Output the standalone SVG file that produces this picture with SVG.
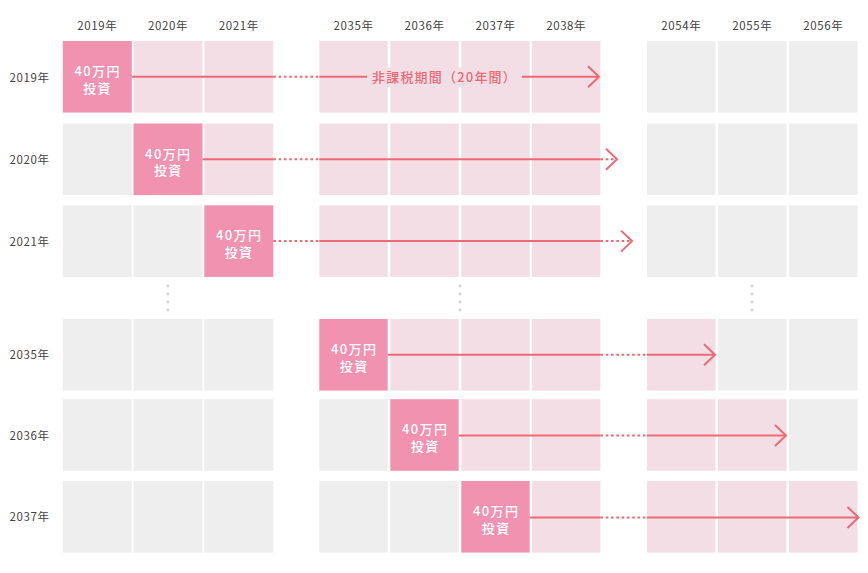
<svg xmlns="http://www.w3.org/2000/svg" width="868" height="573" viewBox="0 0 868 573">
<defs>
<style>
.g{fill:#eeeeee}
.l{fill:#f4dee5}
.s{fill:#f192b1}
.yr{font-family:"Noto Sans CJK JP","Noto Sans",sans-serif;font-size:11.5px;fill:#444444;letter-spacing:0.6px}
.hd{text-anchor:middle}
.iv{font-family:"Noto Sans CJK JP","Noto Sans",sans-serif;font-size:13px;font-weight:500;fill:#ffffff;text-anchor:middle;letter-spacing:1.4px}
.ln{stroke:#ec6a75;stroke-width:2;fill:none}
.dt{stroke-dasharray:2.6 2.7}
.arr{marker-end:url(#ah)}
.lbl{font-family:"Noto Sans CJK JP","Noto Sans",sans-serif;font-size:13px;font-weight:500;fill:#ec6a75;text-anchor:middle;letter-spacing:1.2px}
.dot{fill:#d2d2d2}
</style>
<marker id="ah" viewBox="0 0 14 24" refX="12.5" refY="12" markerWidth="14" markerHeight="24" markerUnits="userSpaceOnUse" orient="auto">
<path d="M1.5,1.5 L12.5,12 L1.5,22.5" fill="none" stroke="#ec6a75" stroke-width="2"/>
</marker>
</defs>

<g id="headers" class="yr">
<text class="hd" x="97.3" y="29.5">2019年</text>
<text class="hd" x="168" y="29.5">2020年</text>
<text class="hd" x="238.8" y="29.5">2021年</text>
<text class="hd" x="353.5" y="29.5">2035年</text>
<text class="hd" x="424.5" y="29.5">2036年</text>
<text class="hd" x="495.5" y="29.5">2037年</text>
<text class="hd" x="566.2" y="29.5">2038年</text>
<text class="hd" x="681.3" y="29.5">2054年</text>
<text class="hd" x="752.3" y="29.5">2055年</text>
<text class="hd" x="823.3" y="29.5">2056年</text>
<text x="9.5" y="81.5">2019年</text>
<text x="9.5" y="164">2020年</text>
<text x="9.5" y="245.6">2021年</text>
<text x="9.5" y="359.3">2035年</text>
<text x="9.5" y="439.5">2036年</text>
<text x="9.5" y="521.3">2037年</text>
</g>

<g id="row-2019">
<rect class="l" x="133.5" y="41" width="69" height="71.6"/>
<rect class="l" x="204.3" y="41" width="69" height="71.6"/>
<rect class="l" x="319.3" y="41" width="68.4" height="71.6"/>
<rect class="l" x="390.3" y="41" width="68.4" height="71.6"/>
<rect class="l" x="461.3" y="41" width="68.4" height="71.6"/>
<rect class="l" x="532" y="41" width="68.4" height="71.6"/>
<rect class="g" x="647" y="41" width="68.5" height="71.6"/>
<rect class="g" x="718" y="41" width="68.5" height="71.6"/>
<rect class="g" x="789" y="41" width="68.5" height="71.6"/>
</g>
<g id="invest-2019">
<rect class="s" x="62.8" y="41" width="69" height="71.6"/>
<text class="iv" x="97.6" y="76">40万円</text>
<text class="iv" x="97.6" y="92.5">投資</text>
</g>

<g id="row-2020">
<rect class="g" x="62.8" y="123.5" width="69" height="71.6"/>
<rect class="l" x="204.3" y="123.5" width="69" height="71.6"/>
<rect class="l" x="319.3" y="123.5" width="68.4" height="71.6"/>
<rect class="l" x="390.3" y="123.5" width="68.4" height="71.6"/>
<rect class="l" x="461.3" y="123.5" width="68.4" height="71.6"/>
<rect class="l" x="532" y="123.5" width="68.4" height="71.6"/>
<rect class="g" x="647" y="123.5" width="68.5" height="71.6"/>
<rect class="g" x="718" y="123.5" width="68.5" height="71.6"/>
<rect class="g" x="789" y="123.5" width="68.5" height="71.6"/>
</g>
<g id="invest-2020">
<rect class="s" x="133.5" y="123.5" width="69" height="71.6"/>
<text class="iv" x="168.3" y="158.5">40万円</text>
<text class="iv" x="168.3" y="175">投資</text>
</g>

<g id="row-2021">
<rect class="g" x="62.8" y="205.3" width="69" height="71.6"/>
<rect class="g" x="133.5" y="205.3" width="69" height="71.6"/>
<rect class="l" x="319.3" y="205.3" width="68.4" height="71.6"/>
<rect class="l" x="390.3" y="205.3" width="68.4" height="71.6"/>
<rect class="l" x="461.3" y="205.3" width="68.4" height="71.6"/>
<rect class="l" x="532" y="205.3" width="68.4" height="71.6"/>
<rect class="g" x="647" y="205.3" width="68.5" height="71.6"/>
<rect class="g" x="718" y="205.3" width="68.5" height="71.6"/>
<rect class="g" x="789" y="205.3" width="68.5" height="71.6"/>
</g>
<g id="invest-2021">
<rect class="s" x="204.3" y="205.3" width="69" height="71.6"/>
<text class="iv" x="239.1" y="240.3">40万円</text>
<text class="iv" x="239.1" y="256.8">投資</text>
</g>

<g id="ellipsis">
<circle class="dot" cx="167.8" cy="286" r="1.4"/>
<circle class="dot" cx="167.8" cy="294" r="1.4"/>
<circle class="dot" cx="167.8" cy="302" r="1.4"/>
<circle class="dot" cx="167.8" cy="310" r="1.4"/>
<circle class="dot" cx="460" cy="286" r="1.4"/>
<circle class="dot" cx="460" cy="294" r="1.4"/>
<circle class="dot" cx="460" cy="302" r="1.4"/>
<circle class="dot" cx="460" cy="310" r="1.4"/>
<circle class="dot" cx="752" cy="286" r="1.4"/>
<circle class="dot" cx="752" cy="294" r="1.4"/>
<circle class="dot" cx="752" cy="302" r="1.4"/>
<circle class="dot" cx="752" cy="310" r="1.4"/>
</g>

<g id="row-2035">
<rect class="g" x="62.8" y="319" width="69" height="71.6"/>
<rect class="g" x="133.5" y="319" width="69" height="71.6"/>
<rect class="g" x="204.3" y="319" width="69" height="71.6"/>
<rect class="l" x="390.3" y="319" width="68.4" height="71.6"/>
<rect class="l" x="461.3" y="319" width="68.4" height="71.6"/>
<rect class="l" x="532" y="319" width="68.4" height="71.6"/>
<rect class="l" x="647" y="319" width="68.5" height="71.6"/>
<rect class="g" x="718" y="319" width="68.5" height="71.6"/>
<rect class="g" x="789" y="319" width="68.5" height="71.6"/>
</g>
<g id="invest-2035">
<rect class="s" x="319.3" y="319" width="68.4" height="71.6"/>
<text class="iv" x="354.2" y="354">40万円</text>
<text class="iv" x="354.2" y="370.5">投資</text>
</g>

<g id="row-2036">
<rect class="g" x="62.8" y="399.2" width="69" height="71.6"/>
<rect class="g" x="133.5" y="399.2" width="69" height="71.6"/>
<rect class="g" x="204.3" y="399.2" width="69" height="71.6"/>
<rect class="g" x="319.3" y="399.2" width="68.4" height="71.6"/>
<rect class="l" x="461.3" y="399.2" width="68.4" height="71.6"/>
<rect class="l" x="532" y="399.2" width="68.4" height="71.6"/>
<rect class="l" x="647" y="399.2" width="68.5" height="71.6"/>
<rect class="l" x="718" y="399.2" width="68.5" height="71.6"/>
<rect class="g" x="789" y="399.2" width="68.5" height="71.6"/>
</g>
<g id="invest-2036">
<rect class="s" x="390.3" y="399.2" width="68.4" height="71.6"/>
<text class="iv" x="425.2" y="434.2">40万円</text>
<text class="iv" x="425.2" y="450.7">投資</text>
</g>

<g id="row-2037">
<rect class="g" x="62.8" y="481" width="69" height="71.6"/>
<rect class="g" x="133.5" y="481" width="69" height="71.6"/>
<rect class="g" x="204.3" y="481" width="69" height="71.6"/>
<rect class="g" x="319.3" y="481" width="68.4" height="71.6"/>
<rect class="g" x="390.3" y="481" width="68.4" height="71.6"/>
<rect class="l" x="532" y="481" width="68.4" height="71.6"/>
<rect class="l" x="647" y="481" width="68.5" height="71.6"/>
<rect class="l" x="718" y="481" width="68.5" height="71.6"/>
<rect class="l" x="789" y="481" width="68.5" height="71.6"/>
</g>
<g id="invest-2037">
<rect class="s" x="461.3" y="481" width="68.4" height="71.6"/>
<text class="iv" x="496.2" y="516">40万円</text>
<text class="iv" x="496.2" y="532.5">投資</text>
</g>

<g id="connectors">
<!-- 2019 -->
<line class="ln" x1="131.8" y1="76.8" x2="273.3" y2="76.8"/>
<line class="ln dt" x1="273.3" y1="76.8" x2="319.3" y2="76.8"/>
<line class="ln" x1="319.3" y1="76.8" x2="367" y2="76.8"/>
<line class="ln arr" x1="521.7" y1="76.8" x2="599" y2="76.8"/>
<!-- 2020 -->
<line class="ln" x1="202.5" y1="159.3" x2="273.3" y2="159.3"/>
<line class="ln dt" x1="273.3" y1="159.3" x2="319.3" y2="159.3"/>
<line class="ln" x1="319.3" y1="159.3" x2="600.4" y2="159.3"/>
<line class="ln dt arr" x1="600.4" y1="159.3" x2="617" y2="159.3"/>
<!-- 2021 -->
<line class="ln dt" x1="273.3" y1="241.1" x2="319.3" y2="241.1"/>
<line class="ln" x1="319.3" y1="241.1" x2="600.4" y2="241.1"/>
<line class="ln dt arr" x1="600.4" y1="241.1" x2="632" y2="241.1"/>
<!-- 2035 -->
<line class="ln" x1="387.7" y1="354.8" x2="600.4" y2="354.8"/>
<line class="ln dt" x1="600.4" y1="354.8" x2="647" y2="354.8"/>
<line class="ln arr" x1="647" y1="354.8" x2="715" y2="354.8"/>
<!-- 2036 -->
<line class="ln" x1="458.7" y1="435.5" x2="600.4" y2="435.5"/>
<line class="ln dt" x1="600.4" y1="435.5" x2="647" y2="435.5"/>
<line class="ln arr" x1="647" y1="435.5" x2="786" y2="435.5"/>
<!-- 2037 -->
<line class="ln" x1="529.7" y1="517.5" x2="600.4" y2="517.5"/>
<line class="ln dt" x1="600.4" y1="517.5" x2="647" y2="517.5"/>
<line class="ln arr" x1="647" y1="517.5" x2="858.5" y2="517.5"/>
<!-- label -->
<rect class="l" x="367" y="67.5" width="154.7" height="19.5"/>
<text class="lbl" x="444.5" y="81.5">非課税期間（20年間）</text>
</g>
</svg>
